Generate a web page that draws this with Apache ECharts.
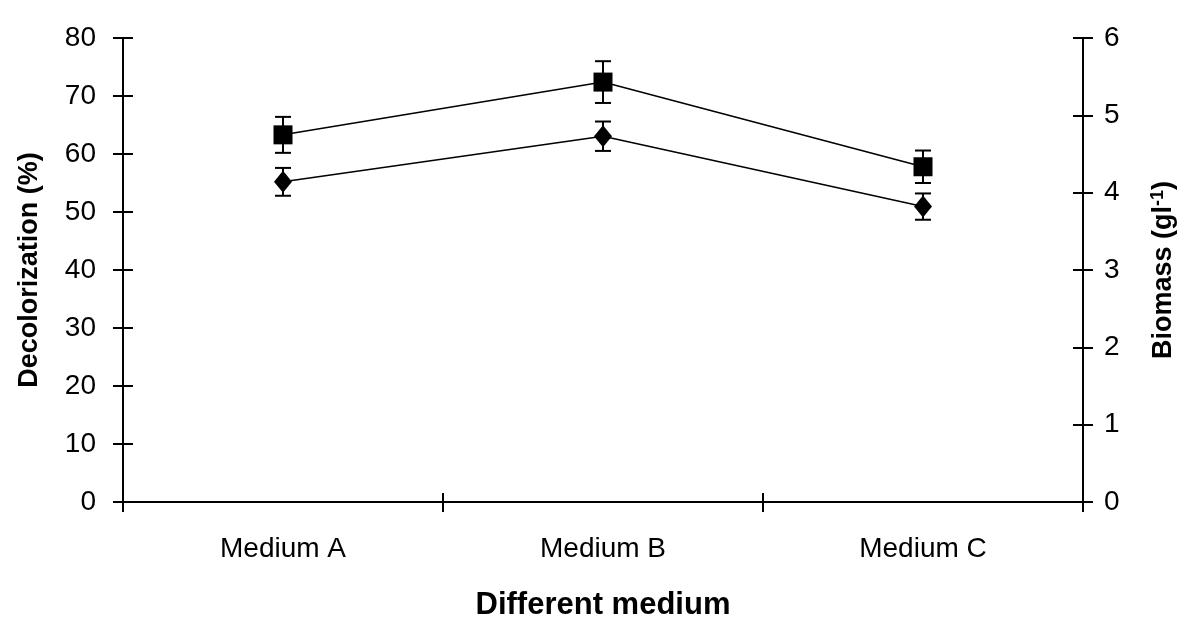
<!DOCTYPE html>
<html>
<head>
<meta charset="utf-8">
<script src="https://cdn.jsdelivr.net/npm/echarts@6/dist/echarts.min.js"></script>
<style>
  html, body { margin: 0; padding: 0; background: #fff; }
  #chart { width: 1200px; height: 642px; }
</style>
</head>
<body>
<div id="chart"></div>
<script>
const categories = ['Medium A', 'Medium B', 'Medium C']
// decolorization (%) - squares, left axis
const decolorization = [63.3, 72.4, 57.8]
const decolorizationErr = [3.1, 3.6, 2.8]
// biomass (g/l) - diamonds, right axis
const biomass = [4.14, 4.73, 3.82]
const biomassErr = [0.18, 0.19, 0.17]

const chart = echarts.init(document.getElementById('chart'))

const font = 'Liberation Sans, Arial, sans-serif'

function errorBars(values, errs) {
  return values.map((v, i) => [i, v - errs[i], v + errs[i]])
}

function renderErr(params, api) {
  const x = api.value(0)
  const lo = api.coord([x, api.value(1)])
  const hi = api.coord([x, api.value(2)])
  const cap = 8
  const style = { stroke: '#000', lineWidth: 2 }
  return {
    type: 'group',
    children: [
      { type: 'line', shape: { x1: lo[0], y1: lo[1], x2: hi[0], y2: hi[1] }, style },
      { type: 'line', shape: { x1: lo[0] - cap, y1: lo[1], x2: lo[0] + cap, y2: lo[1] }, style },
      { type: 'line', shape: { x1: hi[0] - cap, y1: hi[1], x2: hi[0] + cap, y2: hi[1] }, style }
    ]
  }
}

const axisLine = { show: true, lineStyle: { color: '#000', width: 2 } }
const labelStyle = { color: '#000', fontSize: 28, fontFamily: font }
const nameStyle = { color: '#000', fontSize: 27, fontWeight: 'bold', fontFamily: font }

const option = {
  backgroundColor: '#fff',
  animation: false,
  grid: { left: 123, right: 117, top: 38, bottom: 140 },
  xAxis: [
    {
      type: 'category',
      data: categories,
      boundaryGap: true,
      axisLine,
      axisTick: { show: true, length: 10, lineStyle: { color: '#000', width: 2 } },
      axisLabel: { ...labelStyle, margin: 33 },
      name: 'Different medium',
      nameLocation: 'middle',
      nameGap: 88,
      nameTextStyle: { ...nameStyle, fontSize: 31 }
    },
    {
      type: 'category',
      data: categories,
      position: 'bottom',
      boundaryGap: true,
      axisLine: { show: false },
      axisTick: { show: true, inside: true, length: 9, lineStyle: { color: '#000', width: 2 } },
      axisLabel: { show: false }
    }
  ],
  yAxis: [
    {
      type: 'value',
      min: 0, max: 80, interval: 10,
      axisLine,
      axisTick: { show: true, length: 10, lineStyle: { color: '#000', width: 2 } },
      axisLabel: { ...labelStyle, margin: 27 },
      splitLine: { show: false },
      name: 'Decolorization (%)',
      nameLocation: 'middle',
      nameGap: 80,
      nameTextStyle: nameStyle
    },
    {
      type: 'value',
      min: 0, max: 6, interval: 1,
      position: 'right',
      axisLine,
      axisTick: { show: true, length: 10, lineStyle: { color: '#000', width: 2 } },
      axisLabel: { ...labelStyle, margin: 21 },
      splitLine: { show: false },
      name: '{a|Biomass (gl}{s|-1}{a|)}',
      nameLocation: 'middle',
      nameGap: 66,
      nameTextStyle: {
        rich: {
          a: nameStyle,
          s: { color: '#000', fontSize: 18, fontWeight: 'bold', fontFamily: font, verticalAlign: 'top', padding: [0, 0, 12, 0] }
        }
      }
    },
    {
      type: 'value',
      min: 0, max: 80, interval: 10,
      position: 'left',
      axisLine: { show: false },
      axisTick: { show: true, inside: true, length: 10, lineStyle: { color: '#000', width: 2 } },
      axisLabel: { show: false },
      splitLine: { show: false }
    },
    {
      type: 'value',
      min: 0, max: 6, interval: 1,
      position: 'right',
      axisLine: { show: false },
      axisTick: { show: true, inside: true, length: 10, lineStyle: { color: '#000', width: 2 } },
      axisLabel: { show: false },
      splitLine: { show: false }
    }
  ],
  series: [
    {
      name: 'Decolorization',
      type: 'line',
      yAxisIndex: 0,
      data: decolorization,
      symbol: 'rect',
      symbolSize: 19,
      lineStyle: { color: '#000', width: 1.5 },
      itemStyle: { color: '#000' }
    },
    {
      name: 'Biomass',
      type: 'line',
      yAxisIndex: 1,
      data: biomass,
      symbol: 'diamond',
      symbolSize: [18, 22],
      lineStyle: { color: '#000', width: 1.5 },
      itemStyle: { color: '#000' }
    },
    {
      type: 'custom',
      yAxisIndex: 0,
      renderItem: renderErr,
      data: errorBars(decolorization, decolorizationErr),
      z: 5
    },
    {
      type: 'custom',
      yAxisIndex: 1,
      renderItem: renderErr,
      data: errorBars(biomass, biomassErr),
      z: 5
    }
  ]
}

chart.setOption(option)
</script>
</body>
</html>
